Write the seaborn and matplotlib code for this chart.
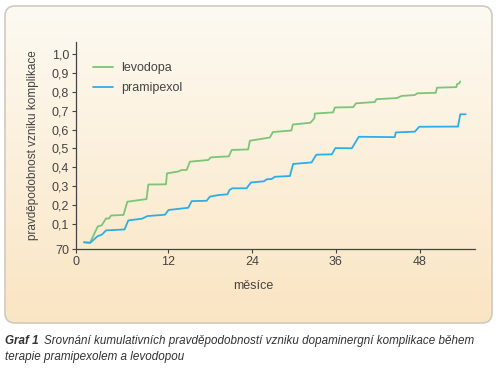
import numpy as np
import pandas as pd
import seaborn as sns
import matplotlib.pyplot as plt
from matplotlib.patches import FancyBboxPatch

# Data (months, cumulative probability)
levodopa_x = [0, 0.86, 1.96, 2.53, 3.14, 3.57, 3.86, 5.64, 6.19, 8.93, 9.19, 11.71,
              11.86, 13.47, 13.96, 14.67, 15.14, 17.76, 18.14, 20.71, 21.1, 23.47,
              23.71, 26.57, 27.0, 29.64, 29.86, 32.36, 32.93, 33.0, 35.61, 35.86,
              38.5, 38.86, 41.57, 41.81, 44.71, 45.39, 47.29, 47.64, 50.29, 50.47,
              53.24, 53.33, 53.64, 53.79]
levodopa_y = [0.003, 0.001, 0.087, 0.093, 0.129, 0.129, 0.145, 0.148, 0.218, 0.232,
              0.309, 0.310, 0.368, 0.378, 0.386, 0.386, 0.430, 0.439, 0.453, 0.458,
              0.492, 0.495, 0.541, 0.558, 0.587, 0.595, 0.627, 0.636, 0.660, 0.685,
              0.691, 0.717, 0.719, 0.739, 0.746, 0.761, 0.767, 0.778, 0.783, 0.792,
              0.795, 0.822, 0.825, 0.841, 0.845, 0.855]

pramipexol_x = [0, 0.86, 1.93, 2.57, 3.14, 5.79, 6.33, 8.29, 9.07, 11.57, 12.07, 14.9,
                15.39, 17.53, 18.0, 18.71, 19.43, 20.5, 20.79, 21.21, 23.24, 23.86,
                25.71, 26.14, 26.81, 27.29, 29.43, 29.9, 32.53, 33.21, 35.43, 35.93,
                38.29, 39.29, 44.43, 44.57, 47.29, 47.93, 53.47, 53.79, 54.57]
pramipexol_y = [0.003, 0.0, 0.035, 0.044, 0.066, 0.071, 0.119, 0.128, 0.142, 0.149,
                0.174, 0.186, 0.221, 0.223, 0.245, 0.250, 0.254, 0.257, 0.280, 0.289,
                0.289, 0.320, 0.326, 0.337, 0.338, 0.350, 0.354, 0.418, 0.426, 0.467,
                0.469, 0.502, 0.501, 0.562, 0.560, 0.585, 0.589, 0.615, 0.616, 0.681,
                0.681]

x_ticks = [12, 24, 36, 48]
y_ticks = [0.1, 0.2, 0.3, 0.4, 0.5, 0.6, 0.7, 0.8, 0.9, 1.0]
y_ticklabels = ['0,1', '0,2', '0,3', '0,4', '0,5', '0,6', '0,7', '0,8', '0,9', '1,0']

df = pd.concat([
    pd.DataFrame({'mesice': levodopa_x, 'p': levodopa_y, 'lek': 'levodopa'}),
    pd.DataFrame({'mesice': pramipexol_x, 'p': pramipexol_y, 'lek': 'pramipexol'}),
])

sns.set_style('ticks')
plt.rcParams['font.family'] = ['Liberation Sans', 'DejaVu Sans']

fig = plt.figure(figsize=(5, 3.8), dpi=100)

# rounded beige panel with vertical gradient
bg = fig.add_axes([0, 0, 1, 1], zorder=-1)
bg.set_xlim(0, 500)
bg.set_ylim(380, 0)
bg.axis('off')
grad = np.linspace(0, 1, 256).reshape(-1, 1)
top = np.array([253, 250, 242]) / 255
bottom = np.array([250, 229, 195]) / 255
img = top + (bottom - top) * grad[..., None]
im = bg.imshow(img, extent=(5, 492, 323, 6), aspect='auto')
box = FancyBboxPatch((5, 6), 487, 317, boxstyle='round,pad=0,rounding_size=10',
                     facecolor='none', edgecolor='#cfcac2', linewidth=1.2)
bg.add_patch(box)
im.set_clip_path(box)

ax = fig.add_axes([0.152, 0.344, 0.798, 0.546])
ax.patch.set_alpha(0)
sns.lineplot(data=df, x='mesice', y='p', hue='lek', estimator=None, sort=False,
             palette={'levodopa': '#7cc576', 'pramipexol': '#2eaee6'},
             linewidth=1.3, ax=ax)

x0, y0 = -1.15, -0.034
ax.set_xlim(x0, 55.9)
ax.set_ylim(y0, 1.065)
ax.set_xticks([x0] + x_ticks)
ax.set_xticklabels(['0'] + [str(t) for t in x_ticks])
ax.set_yticks([y0] + y_ticks)
ax.set_yticklabels(['70'] + y_ticklabels)
ax.tick_params(colors='#444444', labelsize=9, length=3, width=0.8, pad=2)
for s in ['left', 'bottom']:
    ax.spines[s].set_color('#444444')
    ax.spines[s].set_linewidth(0.9)
sns.despine(ax=ax)

ax.set_xlabel('měsíce', fontsize=9, color='#444444')
ax.xaxis.set_label_coords(0.444, -0.15)
ax.set_ylabel('pravděpodobnost vzniku komplikace', fontsize=8.5, color='#444444', labelpad=9)

leg = ax.legend(loc='upper left', bbox_to_anchor=(0.015, 0.955), frameon=False,
                fontsize=9, handlelength=1.6, handletextpad=0.65, labelspacing=0.6)
for t in leg.get_texts():
    t.set_color('#444444')

fig.text(0.010, 0.095, 'Graf 1', fontsize=8.4, fontweight='bold', style='italic', color='#333333')
fig.text(0.087, 0.095, 'Srovnání kumulativních pravděpodobností vzniku dopaminergní komplikace během',
         fontsize=8.4, style='italic', color='#333333')
fig.text(0.010, 0.053, 'terapie pramipexolem a levodopou', fontsize=8.4, style='italic', color='#333333')

fig.savefig('out.png', dpi=100)
